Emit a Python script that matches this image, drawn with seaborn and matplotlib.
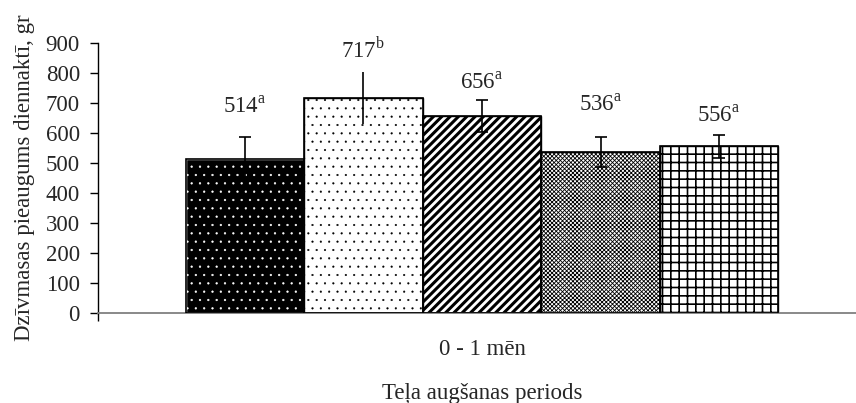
import matplotlib
matplotlib.use('Agg')

import matplotlib.pyplot as plt
import seaborn as sns
import pandas as pd
from matplotlib.patches import Rectangle

# =========================
# DATA
# =========================
period = ['0 - 1 mēn']
groups = ['1', '2', '3', '4', '5']
gain = [514, 717, 656, 536, 556]
gain_err = [74, 88, 53, 50, 39]
letters = ['a', 'b', 'a', 'a', 'a']

# =========================
# STYLE
# =========================
sns.set_style('white')
plt.rcParams['font.family'] = ['Liberation Serif', 'DejaVu Serif']
plt.rcParams['mathtext.fontset'] = 'custom'
plt.rcParams['mathtext.rm'] = 'Liberation Serif'
plt.rcParams['hatch.linewidth'] = 1.0

df = pd.DataFrame({
    'period': period * len(groups),
    'group': groups,
    'gain': gain,
})

fig = plt.figure(figsize=(8.56, 4.03), dpi=100)
ax = fig.add_axes([98 / 856, 90 / 403, 768 / 856, 270 / 403])

sns.barplot(
    data=df, x='period', y='gain', hue='group',
    palette=['black', 'white', 'white', 'white', 'white'],
    saturation=1, width=0.772, gap=0, errorbar=None,
    edgecolor='black', linewidth=1, legend=False, ax=ax
)

# hatch pattern per bar: (hatch, hatch colour, hatch linewidth)
# (diagonal hatches come out at half the density of '+' / '.')
patterns = [('..', 'white', 0.4), ('..', 'black', 0.3), ('////', 'black', 2.2),
            ('xxxxxxxx', 'black', 0.6), ('++', 'black', 1.2)]
bars = ax.patches[:len(groups)]
for p, (h, hc, hlw) in zip(bars, patterns):
    p.set_hatch(h)
    p.set_edgecolor(hc)
    if hasattr(p, 'set_hatch_linewidth'):
        p.set_hatch_linewidth(hlw)
    # black outline on top (hatch colour follows edge colour)
    ax.add_patch(Rectangle(p.get_xy(), p.get_width(), p.get_height(),
                           fill=False, edgecolor='black', linewidth=1.2, zorder=3))

# error bars + labels
caps = [4.5, 0, 4.5, 4.5, 4.5]
label_lift = [17, 10, 8.5, 19, 9.5]
for p, v, e, l, cs, lift in zip(bars, gain, gain_err, letters, caps, label_lift):
    cx = p.get_x() + p.get_width() / 2
    ax.errorbar(cx, v, yerr=e, color='black', elinewidth=1.2,
                capsize=cs, capthick=1.2, zorder=4)
    ax.annotate(f'{v}$^{{\\mathrm{{{l}}}}}$', (cx, v + e), xytext=(0, lift),
                textcoords='offset points', ha='center', va='baseline',
                fontsize=16.5)

# =========================
# AXES
# =========================
ax.set_xlim(-0.5, 0.5)
ax.set_ylim(0, 900)
ax.set_yticks(range(0, 901, 100))
ax.set_xticks([-0.5, 0.5], minor=True)

ax.spines['top'].set_visible(False)
ax.spines['right'].set_visible(False)
ax.spines['left'].set_color('black')
ax.spines['left'].set_linewidth(1)
ax.spines['bottom'].set_color('#808080')
ax.spines['bottom'].set_linewidth(1.3)

ax.tick_params(axis='y', left=True, length=6, width=1, color='black',
               direction='out', pad=7, labelsize=16.5)
ax.tick_params(axis='x', which='major', bottom=True, length=0, pad=19,
               labelsize=16.5)
ax.tick_params(axis='x', which='minor', bottom=True, length=6, width=1,
               color='black', direction='out')

ax.set_xlabel('Teļa augšanas periods', fontsize=16.5, labelpad=16)
ax.set_ylabel('Dzīvmasas pieaugums diennaktī, gr', fontsize=16.5, labelpad=8)

plt.savefig('out.png', dpi=100)
print('Saved: out.png')
